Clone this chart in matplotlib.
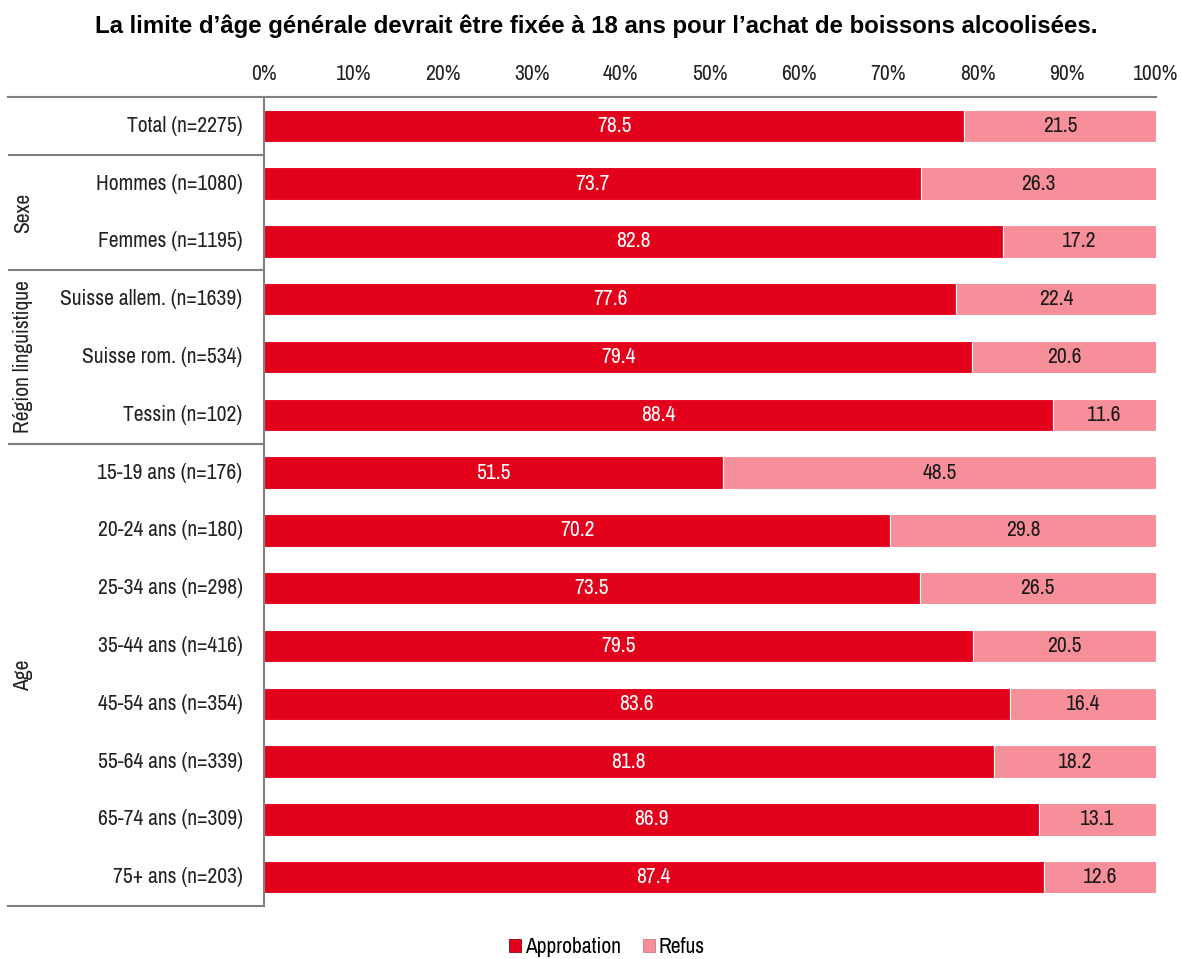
import matplotlib
matplotlib.use("Agg")
import matplotlib.pyplot as plt
from matplotlib.lines import Line2D
from matplotlib.patches import Patch

labels = ["Total (n=2275)", "Hommes (n=1080)", "Femmes (n=1195)",
          "Suisse allem. (n=1639)", "Suisse rom. (n=534)", "Tessin (n=102)",
          "15-19 ans (n=176)", "20-24 ans (n=180)", "25-34 ans (n=298)",
          "35-44 ans (n=416)", "45-54 ans (n=354)", "55-64 ans (n=339)",
          "65-74 ans (n=309)", "75+ ans (n=203)"]
approbation = [78.5, 73.7, 82.8, 77.6, 79.4, 88.4, 51.5, 70.2, 73.5, 79.5, 83.6, 81.8, 86.9, 87.4]
refus = [21.5, 26.3, 17.2, 22.4, 20.6, 11.6, 48.5, 29.8, 26.5, 20.5, 16.4, 18.2, 13.1, 12.6]
groups = [("Sexe", 1, 2), ("Région linguistique", 3, 5), ("Age", 6, 13)]
ticks = [0, 10, 20, 30, 40, 50, 60, 70, 80, 90, 100]

narrow = ["Archivo Narrow", "Liberation Sans"]
red = "#E2001A"
pink = "#F78F9A"
grey = "#808080"
fs = 15.5

fig = plt.figure(figsize=(11.82, 9.59), dpi=100)
ax = fig.add_axes([264 / 1182, 1 - 906 / 959, (1156 - 264) / 1182, (906 - 97) / 959])

y = list(range(len(labels)))
ax.barh(y, approbation, height=0.56, color=red, edgecolor="white", linewidth=0.8)
ax.barh(y, refus, left=approbation, height=0.56, color=pink, edgecolor="white", linewidth=0.8)

for i in y:
    ax.text(approbation[i] / 2, i, f"{approbation[i]:.1f}", ha="center", va="center",
            color="white", fontsize=fs, fontweight="medium", family=narrow)
    ax.text(approbation[i] + refus[i] / 2, i, f"{refus[i]:.1f}", ha="center", va="center",
            color="#1a1a1a", fontsize=fs, fontweight="medium", family=narrow)
    ax.text(-0.024, i, labels[i], ha="right", va="center", transform=ax.get_yaxis_transform(),
            fontsize=fs, family=narrow, color="#222222")

ax.set_xlim(0, 100)
ax.set_ylim(13.5, -0.5)
ax.set_yticks([])
ax.xaxis.tick_top()
ax.set_xticks(ticks)
ax.set_xticklabels([f"{t}%" for t in ticks], family=narrow, fontsize=fs, color="#222222")
ax.tick_params(axis="x", length=0, pad=9)
for s in ax.spines.values():
    s.set_visible(False)
ax.spines["left"].set_visible(True)
ax.spines["left"].set_color(grey)
ax.spines["left"].set_linewidth(1.5)

# horizontal rules in figure pixels
def hline(ypx, x0=8, x1=1156):
    fig.add_artist(Line2D([x0 / 1182, x1 / 1182], [1 - ypx / 959, 1 - ypx / 959],
                          color=grey, linewidth=1.5))

hline(97)
hline(906, 8, 264)
for g, a, b in groups:
    top = a - 0.5
    ax.plot([-0.286, 0], [top, top], transform=ax.get_yaxis_transform(), color=grey,
            linewidth=1.5, clip_on=False)
    ax.text(-0.27, (a + b) / 2, g, rotation=90, ha="center", va="center",
            transform=ax.get_yaxis_transform(), fontsize=fs, family=narrow, color="#222222")

fig.text(0.5045, 1 - 26 / 959, "La limite d\u2019âge générale devrait être fixée à 18 ans pour l\u2019achat de boissons alcoolisées.",
         ha="center", va="center", fontsize=17.3, fontweight="bold", family="Liberation Sans")

handles = [Patch(facecolor=red, edgecolor="#9a0012", linewidth=0.6, label="Approbation"),
           Patch(facecolor=pink, edgecolor="#d77a84", linewidth=0.6, label="Refus")]
fig.legend(handles=handles, loc="center", bbox_to_anchor=(607 / 1182, 1 - 947 / 959), ncol=2,
           frameon=False, prop={"family": narrow, "size": fs}, handlelength=0.55,
           handleheight=0.55, handletextpad=0.2, columnspacing=1.0)

fig.savefig("out.png", dpi=100)
